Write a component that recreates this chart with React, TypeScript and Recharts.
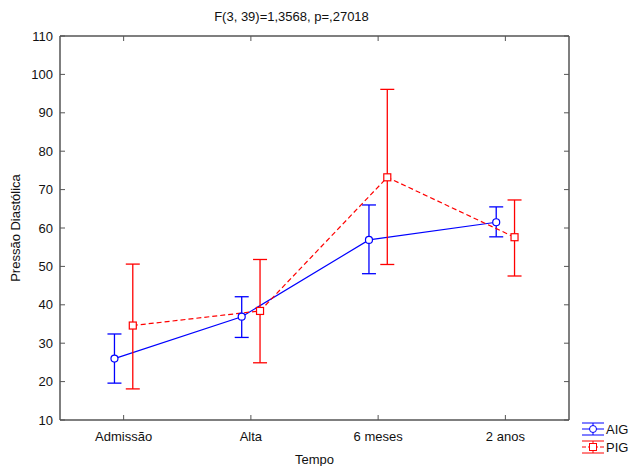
import React from "react";
import { ComposedChart, Line, XAxis, YAxis, ErrorBar, Legend, Label } from "recharts";

// means with lower / upper limits
const categories = ["Admissão", "Alta", "6 meses", "2 anos"];
const aigMean = [26.0, 36.9, 56.9, 61.5];
const aigLower = [19.6, 31.5, 48.1, 57.7];
const aigUpper = [32.4, 42.1, 66.0, 65.5];
const pigMean = [34.6, 38.4, 73.2, 57.6];
const pigLower = [18.1, 24.9, 50.5, 47.5];
const pigUpper = [50.6, 51.8, 96.1, 67.3];
const yTicks = [10, 20, 30, 40, 50, 60, 70, 80, 90, 100, 110];
const catTicks = [0, 1, 2, 3];

const title = "F(3, 39)=1,3568, p=,27018";
const xTitle = "Tempo";
const yTitle = "Pressão Diastólica";

const BLUE = "#0000ff";
const RED = "#ff0000";
const AXIS = "#555";
const FONT = "'Liberation Sans', Arial, sans-serif";
const SHIFT = 0.072; // side-by-side offset of the two groups, in category units

const build = (mean: number[], lower: number[], upper: number[], shift: number) =>
  mean.map((m, i) => ({ x: i + shift, y: m, err: [m - lower[i], upper[i] - m] }));

const aigData = build(aigMean, aigLower, aigUpper, -SHIFT);
const pigData = build(pigMean, pigLower, pigUpper, SHIFT);

const textStyle = { fontFamily: FONT, fontSize: 13, fill: "#111" };

const LeftTick = (p: any) => (
  <g>
    <line x1={p.x + 7} x2={p.x + 12} y1={p.y} y2={p.y} stroke={AXIS} />
    <text x={p.x} y={p.y} dy="0.355em" textAnchor="end" style={textStyle}>{p.payload.value}</text>
  </g>
);
const RightTick = (p: any) => <line x1={p.x - 5} x2={p.x} y1={p.y} y2={p.y} stroke={AXIS} />;
const BottomTick = (p: any) => (
  <g>
    <line x1={p.x} x2={p.x} y1={p.y - 12} y2={p.y - 17} stroke={AXIS} />
    <text x={p.x} y={p.y} dy="0.71em" textAnchor="middle" style={textStyle}>{categories[p.payload.value]}</text>
  </g>
);
const TopTick = (p: any) => <line x1={p.x} x2={p.x} y1={p.y} y2={p.y + 5} stroke={AXIS} />;

const CircleDot = (p: any) => (
  <circle key={`c${p.index}`} cx={p.cx} cy={p.cy} r={3.5} fill="#fff" stroke={BLUE} strokeWidth={1.2} />
);
const SquareDot = (p: any) => (
  <rect key={`s${p.index}`} x={p.cx - 3.5} y={p.cy - 3.5} width={7} height={7} fill="#fff" stroke={RED} strokeWidth={1.2} />
);

const LegendContent = (props: any) => {
  const payload = props.payload || [];
  return (
    <svg width={50} height={44}>
      {payload.map((e: any, i: number) => {
        const cy = 13 + i * 18;
        const c = e.color;
        const dashed = e.value === "PIG";
        return (
          <g key={e.value}>
            <line x1={2} x2={24} y1={cy - 6} y2={cy - 6} stroke={c} />
            <line x1={2} x2={24} y1={cy + 6} y2={cy + 6} stroke={c} />
            <line x1={13} x2={13} y1={cy - 6} y2={cy + 6} stroke={c} />
            <line x1={2} x2={24} y1={cy} y2={cy} stroke={c} strokeDasharray={dashed ? "4 2" : undefined} />
            {dashed ? (
              <rect x={9.5} y={cy - 3.5} width={7} height={7} fill="#fff" stroke={c} />
            ) : (
              <circle cx={13} cy={cy} r={3.5} fill="#fff" stroke={c} />
            )}
            <text x={26} y={cy} dy="0.355em" style={{ ...textStyle, fontSize: 13 }}>{e.value}</text>
          </g>
        );
      })}
    </svg>
  );
};

export default function App() {
  return (
    <div style={{ width: 630, height: 466 }}>
      <style>{"body{margin:0}"}</style>
      <ComposedChart width={630} height={466} margin={{ top: 0, right: 60, bottom: 0, left: 0 }}>
        <XAxis
          xAxisId="top"
          orientation="top"
          type="number"
          dataKey="x"
          domain={[-0.5, 3.5]}
          ticks={catTicks}
          interval={0}
          height={36}
          tickSize={0}
          tickMargin={0}
          tick={TopTick}
          axisLine={{ stroke: AXIS, strokeWidth: 1.5 }}
          tickLine={false}
          allowDataOverflow
        >
          <Label value={title} position="insideTop" offset={12} dx={-23} style={textStyle} />
        </XAxis>
        <XAxis
          type="number"
          dataKey="x"
          domain={[-0.5, 3.5]}
          ticks={catTicks}
          interval={0}
          height={46}
          tickSize={0}
          tickMargin={12}
          tick={BottomTick}
          axisLine={{ stroke: AXIS, strokeWidth: 1.5 }}
          tickLine={false}
          allowDataOverflow
        >
          <Label value={xTitle} position="insideBottom" offset={2} style={textStyle} />
        </XAxis>
        <YAxis
          type="number"
          domain={[10, 110]}
          ticks={yTicks}
          interval={0}
          width={60}
          tickSize={0}
          tickMargin={7}
          tick={LeftTick}
          axisLine={{ stroke: AXIS, strokeWidth: 1.5 }}
          tickLine={false}
          allowDataOverflow
        >
          <Label value={yTitle} position="insideLeft" angle={-90} offset={15} style={{ ...textStyle, textAnchor: "middle" }} />
        </YAxis>
        <YAxis
          yAxisId="right"
          orientation="right"
          type="number"
          domain={[10, 110]}
          ticks={yTicks}
          interval={0}
          width={1}
          tickSize={0}
          tickMargin={0}
          tick={RightTick}
          axisLine={{ stroke: AXIS, strokeWidth: 1.5 }}
          tickLine={false}
          allowDataOverflow
        />
        <Legend
          layout="vertical"
          align="center"
          verticalAlign="middle"
          wrapperStyle={{ left: 580, top: 416, width: 50 }}
          content={LegendContent}
        />
        <Line
          data={aigData}
          dataKey="y"
          name="AIG"
          stroke={BLUE}
          strokeWidth={1.2}
          dot={CircleDot}
          activeDot={false}
          isAnimationActive={false}
        >
          <ErrorBar dataKey="err" direction="y" width={7} stroke={BLUE} strokeWidth={1.3} />
        </Line>
        <Line
          data={pigData}
          dataKey="y"
          name="PIG"
          stroke={RED}
          strokeWidth={1.2}
          strokeDasharray="5 3"
          dot={SquareDot}
          activeDot={false}
          isAnimationActive={false}
        >
          <ErrorBar dataKey="err" direction="y" width={7} stroke={RED} strokeWidth={1.3} />
        </Line>
      </ComposedChart>
    </div>
  );
}
